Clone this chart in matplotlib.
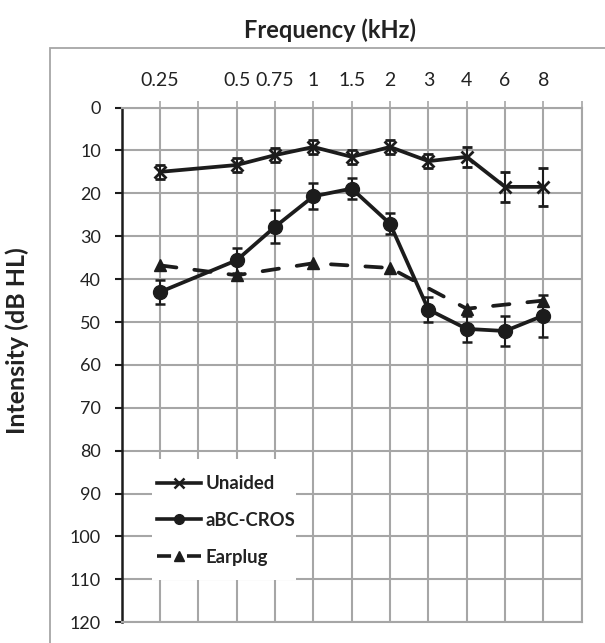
import numpy as np
import matplotlib
matplotlib.use("Agg")
import matplotlib.pyplot as plt
from matplotlib.lines import Line2D
from matplotlib.patches import Rectangle

plt.rcParams['font.family'] = ['Lato', 'DejaVu Sans']

# frequency categories (blank slot between 0.25 and 0.5 kHz)
freqs = ['0.25', '', '0.5', '0.75', '1', '1.5', '2', '3', '4', '6', '8']
nan = np.nan

unaided = [15.0, nan, 13.4, 11.1, 9.2, 11.5, 9.2, 12.5, 11.5, 18.5, 18.5]
unaided_err = [1.6, nan, 1.6, 1.6, 1.6, 1.6, 1.6, 1.6, 2.3, 3.5, 4.5]
abc = [43.0, nan, 35.6, 27.8, 20.7, 18.9, 27.1, 47.1, 51.6, 52.1, 48.5]
abc_err = [2.9, nan, 2.9, 3.9, 3.0, 2.5, 2.4, 2.9, 3.1, 3.4, 4.9]
earplug = [36.8, nan, 39.1, nan, 36.3, nan, 37.4, nan, 46.9, nan, 45.0]

labels = ['Unaided', 'aBC-CROS', 'Earplug']

ink = '#1c1c1c'
gridc = '#a6a6a6'
txt = '#222222'

fig = plt.figure(figsize=(6.05, 6.43), dpi=100)
ax = fig.add_axes([0.2012, 0.0322, 0.7603, 0.8006])

x = np.arange(1, len(freqs) + 1)


def clean(vals, errs=None):
    v = np.array(vals, dtype=float)
    m = ~np.isnan(v)
    if errs is None:
        return x[m], v[m], None
    return x[m], v[m], np.array(errs, dtype=float)[m]


xs, ys, es = clean(unaided, unaided_err)
ax.errorbar(xs, ys, yerr=es, color=ink, lw=2.7, marker='x', ms=9, mew=2,
            elinewidth=1.5, capsize=3.5, capthick=1.8, zorder=3)
xs, ys, es = clean(abc, abc_err)
ax.errorbar(xs, ys, yerr=es, color=ink, lw=2.7, marker='o', ms=10,
            elinewidth=1.5, capsize=3.5, capthick=1.8, zorder=4)
xs, ys, _ = clean(earplug)
ax.plot(xs, ys, color=ink, lw=2.7, ls=(0, (4.4, 4.8)), dash_capstyle='round',
        marker='^', ms=9, zorder=5)

ax.set_xlim(0, 12)
ax.set_ylim(120, 0)
ax.set_yticks(np.arange(0, 121, 10))
ax.set_xticks(np.arange(1, 13))
ax.set_xticklabels(freqs + [''])
ax.xaxis.tick_top()
ax.tick_params(axis='x', direction='out', length=5, width=1.2, color=gridc,
               pad=8.5, labelsize=14, labelcolor=txt)
ax.tick_params(axis='y', direction='out', length=5, width=1.5, color=ink,
               pad=10, labelsize=13, labelcolor=txt)
ax.grid(True, color=gridc, lw=1.5)
ax.set_axisbelow(True)
for s in ['top', 'right', 'bottom']:
    ax.spines[s].set_color(gridc)
    ax.spines[s].set_linewidth(1.5)
ax.spines['left'].set_color(ink)
ax.spines['left'].set_linewidth(1.8)

# white legend panel
ax.add_patch(Rectangle((0.0665, 0.0822), 0.3125, 0.235, transform=ax.transAxes,
                       facecolor='white', edgecolor='none', zorder=6))
handles = [
    Line2D([], [], color=ink, lw=2.6, marker='x', ms=6.5, mew=1.8),
    Line2D([], [], color=ink, lw=2.6, marker='o', ms=7),
    Line2D([], [], color=ink, lw=2.6, ls=(0, (3.9, 4.4)), marker='^', ms=6.5),
]
leg = ax.legend(handles, labels, loc='center left', bbox_to_anchor=(0.0767, 0.198),
                borderaxespad=0, borderpad=0, frameon=False, handlelength=2.4,
                handletextpad=0.25, labelspacing=1.07,
                prop={'weight': 'bold', 'size': 13.3})
leg.set_zorder(7)
for t in leg.get_texts():
    t.set_color(txt)

fig.text(0.545, 0.953, 'Frequency (kHz)', ha='center', va='center',
         fontsize=17, fontweight='bold', color=txt)
fig.text(0.028, 0.471, 'Intensity (dB HL)', ha='center', va='center',
         rotation=90, fontsize=18, fontweight='bold', color=txt)

fig.add_artist(Rectangle((0.0826, -0.1), 1.0, 1.0246, transform=fig.transFigure,
                         fill=False, edgecolor=gridc, lw=1.3))

fig.savefig('out.png', dpi=100)
